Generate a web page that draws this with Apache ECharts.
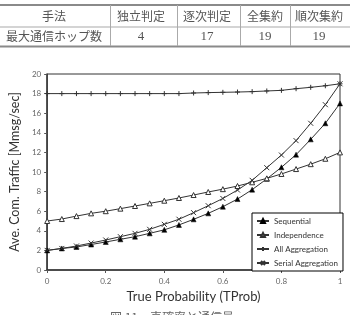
<!DOCTYPE html>
<html>
<head>
<meta charset="utf-8">
<script src="https://cdn.jsdelivr.net/npm/echarts@6/dist/echarts.min.js"></script>
<style>
html,body{margin:0;padding:0;background:#fff;}
#c{width:350px;height:315px;}
</style>
</head>
<body>
<div id="c"></div>
<script>
// Table data
var tableHeader = ['手法', '独立判定', '逐次判定', '全集約', '順次集約'];
var tableRow = ['最大通信ホップ数', '4', '17', '19', '19'];

// Chart data
var xValues = [0,0.05,0.1,0.15,0.2,0.25,0.3,0.35,0.4,0.45,0.5,0.55,0.6,0.65,0.7,0.75,0.8,0.85,0.9,0.95,1];
var sequential = [2.0,2.2,2.35,2.6,2.86,3.13,3.4,3.74,4.1,4.6,5.17,5.78,6.46,7.24,8.2,9.3,10.48,11.77,13.33,14.97,17.0];
var independence = [5.0,5.2,5.5,5.78,6.0,6.26,6.53,6.8,7.07,7.35,7.65,7.96,8.25,8.57,8.95,9.35,9.8,10.3,10.8,11.35,12.0];
var allAggregation = [18,18,18,18,18,18,18,18,18,18,18.06,18.1,18.13,18.16,18.2,18.27,18.33,18.5,18.64,18.8,19.0];
var serialAggregation = [2.0,2.2,2.45,2.75,3.06,3.4,3.74,4.15,4.66,5.18,5.85,6.56,7.3,8.16,9.15,10.44,11.73,13.2,14.97,16.87,19.0];
var seriesNames = ['Sequential', 'Independence', 'All Aggregation', 'Serial Aggregation'];
var caption = '図 11　真確率と通信量';

function pairs(ys){ return xValues.map(function(x,i){ return [x, ys[i]]; }); }

var colEdges = [0, 110, 177, 240, 290, 350];
var colCenters = [54, 141, 207, 265, 319];
var gfx = [];
gfx.push({type:'rect', shape:{x:0,y:4,width:350,height:2}, style:{fill:'#8a8a8a'}});
gfx.push({type:'rect', shape:{x:0,y:26.5,width:350,height:1}, style:{fill:'#aaa'}});
gfx.push({type:'rect', shape:{x:0,y:45.5,width:350,height:2}, style:{fill:'#8a8a8a'}});
for (var k=1;k<colEdges.length-1;k++){
  gfx.push({type:'rect', shape:{x:colEdges[k],y:5,width:1,height:41}, style:{fill:'#aaa'}});
}
function isNum(s){ return /^[0-9]+$/.test(s); }
tableHeader.forEach(function(t,i){
  gfx.push({type:'text', x:colCenters[i], y:16.5, style:{text:t, fill:'#555', font:'12px "Noto Sans CJK JP"', textAlign:'center', textVerticalAlign:'middle'}});
});
tableRow.forEach(function(t,i){
  gfx.push({type:'text', x:colCenters[i], y:36.5, style:{text:t, fill:'#555', font: isNum(t) ? '13px "Liberation Serif"' : '12px "Noto Sans CJK JP"', textAlign:'center', textVerticalAlign:'middle'}});
});
gfx.push({type:'text', x:172, y:311, style:{text:caption, fill:'#666', font:'12px "Noto Sans CJK JP"', textAlign:'center', textVerticalAlign:'top'}});

var lineColor = '#333';
var plusPath = 'path://M0,5L10,5M5,0L5,10';
var crossPath = 'path://M0,0L10,10M0,10L10,0';

var chart = echarts.init(document.getElementById('c'), null, {renderer:'canvas'});
chart.setOption({
  animation:false,
  backgroundColor:'#fff',
  textStyle:{fontFamily:'Lato'},
  graphic: gfx,
  grid:{left:40, right:10, top:74, bottom:45, show:true, borderColor:'#333', borderWidth:1},
  xAxis:{
    type:'value', min:0, max:1, interval:0.2,
    name:'True Probability (TProb)', nameLocation:'middle', nameGap:15,
    nameTextStyle:{fontSize:13, color:'#333', fontFamily:'Lato'},
    axisLine:{lineStyle:{color:'#333', width:1.5}},
    axisTick:{show:true, length:3, lineStyle:{color:'#555'}},
    axisLabel:{fontSize:8, color:'#666', margin:7},
    splitLine:{show:false}
  },
  yAxis:{
    type:'value', min:0, max:20, interval:2,
    name:'Ave. Com. Traffic [Mmsg/sec]', nameLocation:'middle', nameGap:20,
    nameTextStyle:{fontSize:12.5, color:'#333', fontFamily:'Lato'},
    axisLine:{show:true, lineStyle:{color:'#333', width:1.5}},
    axisTick:{show:true, length:3, lineStyle:{color:'#555'}},
    axisLabel:{fontSize:8, color:'#666', margin:6},
    splitLine:{show:false}
  },
  legend:{
    orient:'vertical', left:252, top:213,
    backgroundColor:'#fff', borderColor:'#000', borderWidth:1,
    padding:[4,5,4,4], itemGap:6, itemWidth:12, itemHeight:5,
    textStyle:{fontSize:8, color:'#333', fontFamily:'Lato'},
    data: seriesNames
  },
  series:[
    {name:seriesNames[0], type:'line', data:pairs(sequential), symbol:'triangle', symbolSize:5,
     lineStyle:{color:lineColor, width:1}, itemStyle:{color:'#000', borderColor:'#000', borderWidth:0.5}},
    {name:seriesNames[1], type:'line', data:pairs(independence), symbol:'triangle', symbolSize:5,
     lineStyle:{color:lineColor, width:1}, itemStyle:{color:'#fff', borderColor:'#333', borderWidth:1}},
    {name:seriesNames[2], type:'line', data:pairs(allAggregation), symbol:plusPath, symbolSize:5,
     lineStyle:{color:lineColor, width:1}, itemStyle:{color:'#333', borderColor:'#333', borderWidth:1}},
    {name:seriesNames[3], type:'line', data:pairs(serialAggregation), symbol:crossPath, symbolSize:5,
     lineStyle:{color:lineColor, width:1}, itemStyle:{color:'#333', borderColor:'#333', borderWidth:1}}
  ]
});
</script>
</body>
</html>
